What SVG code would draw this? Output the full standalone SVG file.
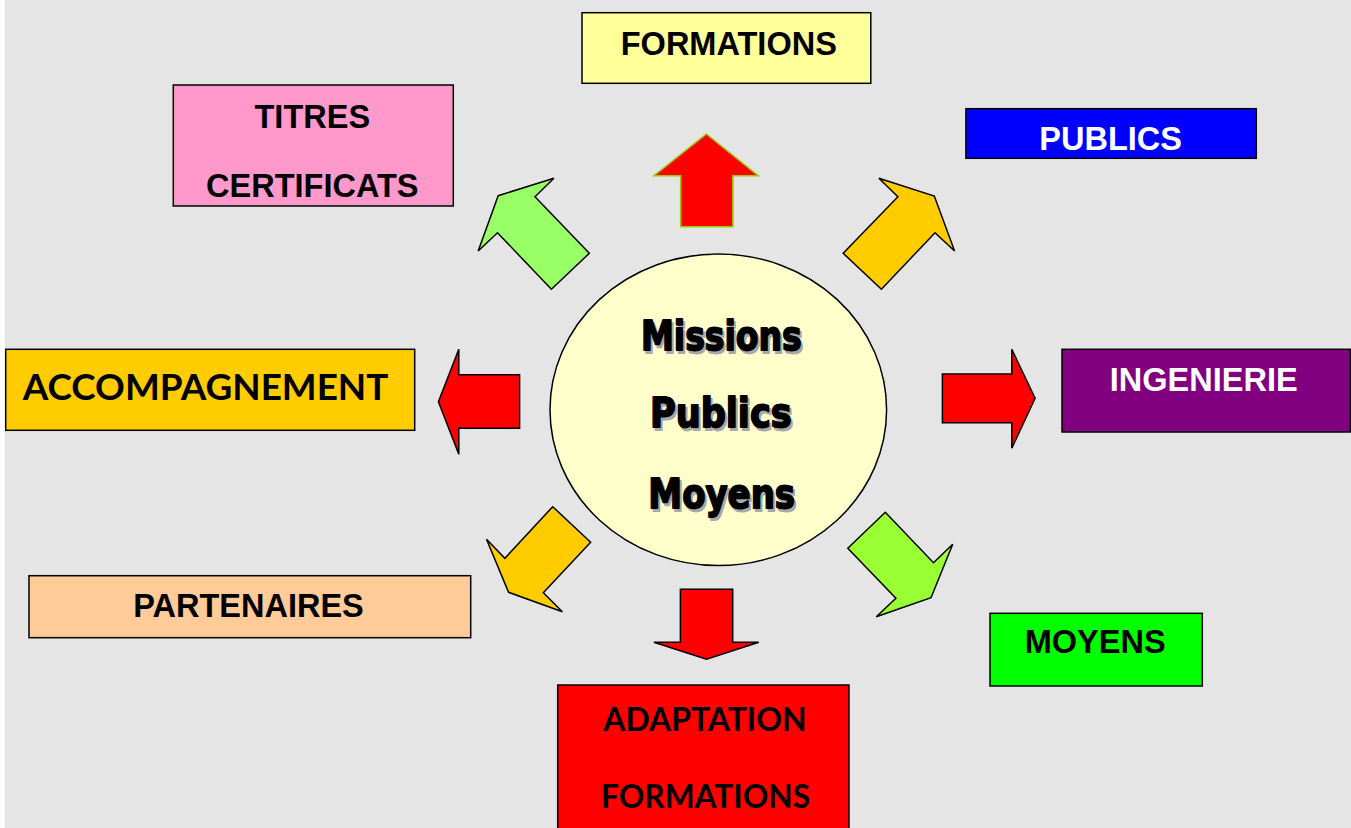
<svg xmlns="http://www.w3.org/2000/svg" width="1351" height="828" viewBox="0 0 1351 828">
<style>
.box{stroke:#000;stroke-width:1.5}
.lbl{font-family:"Liberation Sans",Arial,sans-serif;font-weight:bold;font-size:32.5px;text-anchor:middle;fill:#000}
.cal{font-family:Lato,"Liberation Sans",sans-serif;font-weight:bold;fill:#000}
.white{fill:#fff}
.arr{stroke:#000;stroke-width:1.5;stroke-linejoin:miter}
.ctr{font-family:"DejaVu Sans",sans-serif;font-weight:bold;font-size:40px;text-anchor:middle;fill:#000;stroke:#000;stroke-width:1.8;stroke-linejoin:round}
.shadow{fill:#a8a8a8;stroke:#a8a8a8}
</style>
<rect x="0" y="0" width="1351" height="828" fill="#e5e5e5"/>
<rect x="0" y="0" width="5" height="828" fill="#ffffff"/>

<g id="connectors">
  <polygon fill="#ff0000" stroke="#99cc00" stroke-width="1.5" points="706.4,134 758.2,175.7 732.9,175.7 732.9,226.7 680.7,226.7 680.7,175.7 653.9,175.7"/>
  <polygon class="arr" fill="#99ff66" points="478.2,251 498.2,195.7 553.9,178.3 535,196.7 589.3,253.3 551.4,289.3 497.5,232.7"/>
  <polygon class="arr" fill="#ffcc00" points="878.9,178.3 934.3,196 954.6,251 935,232.7 881.4,289.3 843.2,253.3 897.9,196.7"/>
  <polygon class="arr" fill="#ff0000" points="438.4,401.7 458.8,349.3 458.8,374.7 519.6,374.7 519.6,428.3 458.8,428.3 458.8,454.3"/>
  <polygon class="arr" fill="#ff0000" points="942.4,374 1011.8,374 1011.8,349.3 1035.1,398.3 1011.8,448.3 1011.8,422.7 942.4,422.7"/>
  <polygon class="arr" fill="#ffcc00" points="552.7,506.7 590.6,542.3 543.3,592.7 562.4,611.7 508.6,592.3 486.5,539.3 504.9,558.3"/>
  <polygon class="arr" fill="#ff0000" points="680.4,589.3 732.7,589.3 732.7,642.3 758.8,642.3 706.5,659.3 653.9,642.3 680.4,642.3"/>
  <polygon class="arr" fill="#99ff33" points="885.3,512.3 933.5,562.7 952.7,544.3 931,597.7 876.3,616.7 895.9,598.3 847.8,548.3"/>
</g>

<g id="center">
  <ellipse cx="718.3" cy="409.8" rx="168.3" ry="155.8" fill="#ffffcc" stroke="#000" stroke-width="1.5"/>
  <text class="ctr shadow" x="723.3" y="352.5" textLength="160.7" lengthAdjust="spacingAndGlyphs">Missions</text>
  <text class="ctr" x="721.3" y="350" textLength="160.7" lengthAdjust="spacingAndGlyphs">Missions</text>
  <text class="ctr shadow" x="722.8" y="429.7" textLength="141.7" lengthAdjust="spacingAndGlyphs">Publics</text>
  <text class="ctr" x="720.8" y="427.2" textLength="141.7" lengthAdjust="spacingAndGlyphs">Publics</text>
  <text class="ctr shadow" x="723.7" y="510.5" textLength="146.7" lengthAdjust="spacingAndGlyphs">Moyens</text>
  <text class="ctr" x="721.7" y="508" textLength="146.7" lengthAdjust="spacingAndGlyphs">Moyens</text>
</g>

<g id="formations">
  <rect class="box" x="582" y="12.7" width="288.8" height="70.6" fill="#ffff99"/>
  <text class="lbl" x="728.8" y="55.3">FORMATIONS</text>
</g>

<g id="titres">
  <rect class="box" x="173.3" y="85" width="280" height="121" fill="#ff99cc"/>
  <text class="lbl" x="312.3" y="127.7">TITRES</text>
  <text class="lbl" x="312.3" y="196.7">CERTIFICATS</text>
</g>

<g id="publics">
  <rect class="box" x="965.9" y="108.7" width="290.4" height="49.6" fill="#0000ff"/>
  <text class="lbl white" x="1110.6" y="150">PUBLICS</text>
</g>

<g id="accompagnement">
  <rect class="box" x="5.7" y="349.3" width="409" height="81" fill="#ffcc00"/>
  <text class="cal" x="22.7" y="400" font-size="37" textLength="365.7" lengthAdjust="spacingAndGlyphs">ACCOMPAGNEMENT</text>
</g>

<g id="ingenierie">
  <rect class="box" x="1062" y="349.3" width="288.2" height="82.7" fill="#800080"/>
  <text class="lbl white" x="1203.7" y="391">INGENIERIE</text>
</g>

<g id="partenaires">
  <rect class="box" x="29" y="575.7" width="441.7" height="62" fill="#ffcc99"/>
  <text class="lbl" x="248.5" y="616.7">PARTENAIRES</text>
</g>

<g id="moyens">
  <rect class="box" x="990" y="613.3" width="212.3" height="72.7" fill="#00ff00"/>
  <text class="lbl" x="1095.2" y="653.3">MOYENS</text>
</g>

<g id="adaptation">
  <rect class="box" x="557.7" y="685" width="291.3" height="150" fill="#ff0000"/>
  <text class="cal" x="705" y="731" font-size="31.7" text-anchor="middle" textLength="203.3" lengthAdjust="spacingAndGlyphs">ADAPTATION</text>
  <text class="cal" x="705.5" y="807.7" font-size="31.7" text-anchor="middle" textLength="209" lengthAdjust="spacingAndGlyphs">FORMATIONS</text>
</g>
</svg>
